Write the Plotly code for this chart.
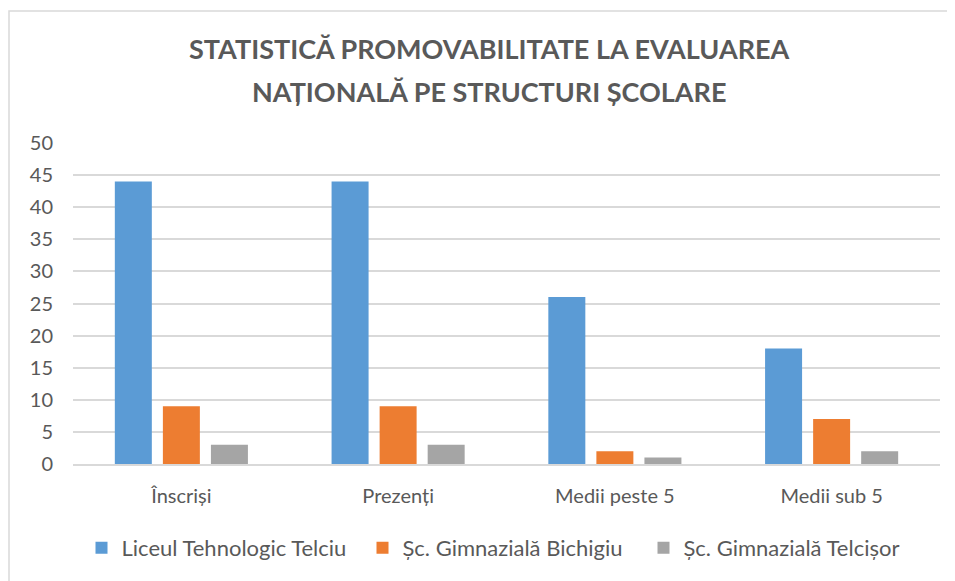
import plotly.graph_objects as go

categories = ["Înscriși", "Prezenți", "Medii peste 5", "Medii sub 5"]
liceu = [44, 44, 26, 18]
bichigiu = [9, 9, 2, 7]
telcisor = [3, 3, 1, 2]
series_names = ["Liceul Tehnologic Telciu", "Șc. Gimnazială Bichigiu", "Șc. Gimnazială Telcișor"]
colors = ["#5B9BD5", "#ED7D31", "#A5A5A5"]
y_ticks = [0, 5, 10, 15, 20, 25, 30, 35, 40, 45, 50]
title_lines = ["STATISTICĂ PROMOVABILITATE LA EVALUAREA", "NAȚIONALĂ PE STRUCTURI ȘCOLARE"]

FONT = "Lato"
OFF = 8  # page body margin
W, H = 955, 581
# plot area in screen px: x 73..940, y 143..464
L, R, T, B = 73 - OFF, W - (940 - OFF), 143 - OFF, H - (464 - OFF)
pw, ph = W - L - R, H - T - B

def px_x(x):
    return (x - OFF - L) / pw

def px_y(y):
    return (H - B - (y - OFF)) / ph

fig = go.Figure()
for name, vals, col in zip(series_names, [liceu, bichigiu, telcisor], colors):
    fig.add_trace(go.Bar(x=categories, y=vals, name=name, marker=dict(color=col, line=dict(width=0))))

annotations = []
for i, (line, ysc) in enumerate(zip(title_lines, [49, 91])):
    annotations.append(dict(text=f"<b>{line}</b>", xref="paper", yref="paper",
                            x=px_x(489), y=px_y(ysc), xanchor="center", yanchor="middle",
                            showarrow=False, font=dict(family=FONT, size=27, color="#595959")))

fig.update_layout(
    width=W, height=H,
    margin=dict(l=L, r=R, t=T, b=B),
    paper_bgcolor="white", plot_bgcolor="white",
    barmode="group", bargap=0.335, bargroupgap=0.23,
    font=dict(family=FONT, color="#595959", size=20),
    xaxis=dict(showgrid=False, showline=True, linecolor="#D9D9D9", linewidth=1.5,
               ticks="", tickfont=dict(size=20, color="#595959"), ticklabelstandoff=13),
    yaxis=dict(range=[0, 50], tickvals=y_ticks, showgrid=True, gridcolor="#D9D9D9", gridwidth=1.5,
               zeroline=False, showline=False, ticks="", tickfont=dict(size=20, color="#595959"),
               ticklabelstandoff=19),
    legend=dict(orientation="h", x=px_x(503), xanchor="center", y=px_y(548), yanchor="middle",
                font=dict(size=22, color="#595959"), itemwidth=30, tracegroupgap=0,
                entrywidth=236, entrywidthmode="pixels",
                bgcolor="rgba(0,0,0,0)"),
    annotations=annotations,
    shapes=[dict(type="rect", xref="paper", yref="paper",
                 x0=px_x(9), x1=px_x(975), y0=px_y(600), y1=px_y(11),
                 line=dict(color="#D9D9D9", width=1.5), fillcolor="rgba(0,0,0,0)", layer="below")],
)

fig.write_html("out.html")
